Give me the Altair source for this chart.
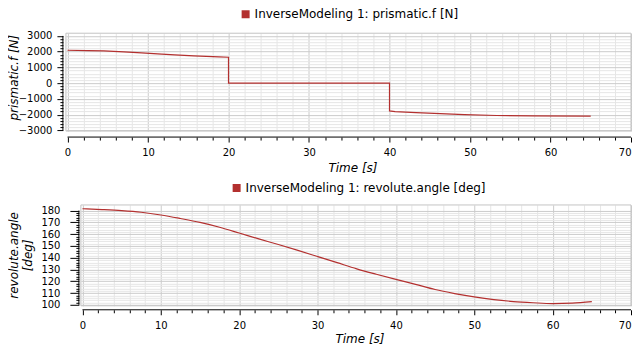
import altair as alt
import pandas as pd

# ---- data ----
t_force = [0, 2.5, 4.5, 7, 9.2, 11.2, 13.3, 15.7, 18.8, 20, 20, 40, 40, 40.7, 43.3, 46.3, 49.3, 53.3, 58, 65]
force = [2090, 2070, 2050, 1990, 1925, 1860, 1800, 1735, 1670, 1645, 0, 0, -1760, -1800, -1865, -1930, -1990, -2050, -2080, -2095]

t_angle = [0, 2.5, 5, 7.5, 10, 12.5, 15, 17.5, 20, 22.5, 25, 27.5, 30, 32.5, 35, 37.5,
           40, 42.5, 45, 47.5, 50, 52.5, 55, 57.5, 60, 62.5, 65]
angle = [181.6, 180.9, 180.0, 178.6, 176.3, 173.3, 170.0, 165.9, 161.0, 156.0, 151.2, 146.2,
         141.0, 135.8, 130.6, 126.0, 121.6, 117.4, 113.0, 109.6, 106.7, 104.4, 102.8, 101.8,
         101.1, 101.5, 102.7]

x_ticks = list(range(0, 71, 2))
f_ticks = list(range(-3000, 3001, 200))
a_ticks = list(range(100, 181, 2))

label_f = "InverseModeling 1: prismatic.f [N]"
label_a = "InverseModeling 1: revolute.angle [deg]"

RED = "#b3302f"
FONT = "DejaVu Sans"
MAJOR_GRID = "#cbcbcb"
MINOR_GRID = "#e6e6e6"
FRAME = "#c4c4c4"
W = 566


def panel(t, v, label, yticks, ymajor, ymin, ymax, ydomain, ytitle, x0, H, legx, legy,
          ymajor_len, yoff, ylab_pad, ytitle_x, ytitle_y, xoff, xlab_pad, xtitle_pad,
          xtitle_x, title_lh, interp):
    df = pd.DataFrame({"t": t, "v": v, "i": list(range(len(t))), "s": [label] * len(t)})
    xaxis = alt.Axis(
        values=x_ticks, tickCount=500, format="d",
        labelExpr="datum.value % 10 === 0 ? datum.label : ''",
        labelOverlap=False, labelBound=False, labelFlush=False,
        labelAlign={"condition": {"test": "datum.value === 70", "value": "right"}, "value": "center"},
        domain=False, offset=xoff,
        tickColor="black",
        tickSize={"condition": {"test": "datum.value % 10 === 0", "value": 5}, "value": 3},
        gridColor={"condition": {"test": "datum.value % 10 === 0", "value": MAJOR_GRID}, "value": MINOR_GRID},
        labelFont=FONT, labelFontSize=10, labelColor="black", labelPadding=xlab_pad,
        title="Time [s]", titleFont=FONT, titleFontSize=12, titleFontStyle="italic",
        titleFontWeight="normal", titleColor="black", titlePadding=xtitle_pad,
        titleX=xtitle_x,
    )
    test = "datum.value % " + str(ymajor) + " === 0"
    yaxis = alt.Axis(
        values=yticks, tickCount=500, format="d",
        labelExpr=test + " ? datum.label : ''",
        labelOverlap=False, labelBound=False, labelFlush=False,
        domain=False, offset=yoff - x0,
        tickColor="black",
        tickSize={"condition": {"test": test, "value": ymajor_len}, "value": 3},
        gridColor={"condition": {"test": test, "value": MAJOR_GRID}, "value": MINOR_GRID},
        labelFont=FONT, labelFontSize=10, labelColor="black", labelPadding=ylab_pad,
        title=ytitle, titleFont=FONT, titleFontSize=12, titleFontStyle="italic",
        titleFontWeight="normal", titleColor="black", titleX=ytitle_x, titleY=ytitle_y,
        titleLineHeight=title_lh,
    )
    xscale = alt.Scale(domain=[-0.2, 70], range=[x0, W], nice=False, zero=False)
    line = alt.Chart(df).mark_line(strokeWidth=1.2, interpolate=interp).encode(
        x=alt.X("t:Q", scale=xscale, axis=xaxis),
        y=alt.Y("v:Q", scale=alt.Scale(domain=ydomain, nice=False, zero=False), axis=yaxis),
        order=alt.Order("i:Q"),
        color=alt.Color("s:N", scale=alt.Scale(range=[RED]),
                        legend=alt.Legend(orient="none", legendX=legx, legendY=legy, title=None,
                                          symbolType="square", symbolSize=64, symbolStrokeWidth=0,
                                          symbolFillColor=RED, symbolOpacity=1,
                                          labelFont=FONT, labelFontSize=12, labelColor="black",
                                          labelOffset=3, padding=0, labelLimit=0)),
    )
    one = pd.DataFrame({"a": [0]})
    frame = alt.Chart(one).mark_rect(fillOpacity=0, stroke=FRAME, strokeWidth=1).encode(
        x=alt.value(x0), x2=alt.value(W), y=alt.value(0), y2=alt.value(H))
    yline = alt.Chart(one).mark_rule(color="black", strokeWidth=1).encode(
        x=alt.value(x0 - yoff), y=alt.datum(ymin), y2=alt.datum(ymax))
    xline = alt.Chart(one).mark_rule(color="black", strokeWidth=1).encode(
        x=alt.datum(0), x2=alt.datum(70), y=alt.value(H + xoff))
    return alt.layer(frame, line, yline, xline).properties(width=W, height=H)


top = panel(t_force, force, label_f, f_ticks, 1000, -3000, 3000, [-3040, 3170],
            "prismatic.f [N]", 0, 98, 174, -25,
            6, 3, 5, -42, 44,
            6, 5, 5, 287, 16, "linear")
bottom = panel(t_angle, angle, label_a, a_ticks, 10, 100, 180, [99.2, 184.8],
               ["revolute.angle", "[deg]"], 15, 101, 165, -23,
               9, 2, 10, -58, 50,
               4, 6, 3, 294, 14, "monotone")

chart = alt.concat(top, bottom, columns=1, spacing=9).resolve_scale(
    x="independent", y="independent", color="independent"
).properties(
    padding={"left": 0, "top": 0, "right": 0, "bottom": 0}
).configure_view(strokeWidth=0)

chart.save("out.html", embed_options={"renderer": "svg", "actions": False})
